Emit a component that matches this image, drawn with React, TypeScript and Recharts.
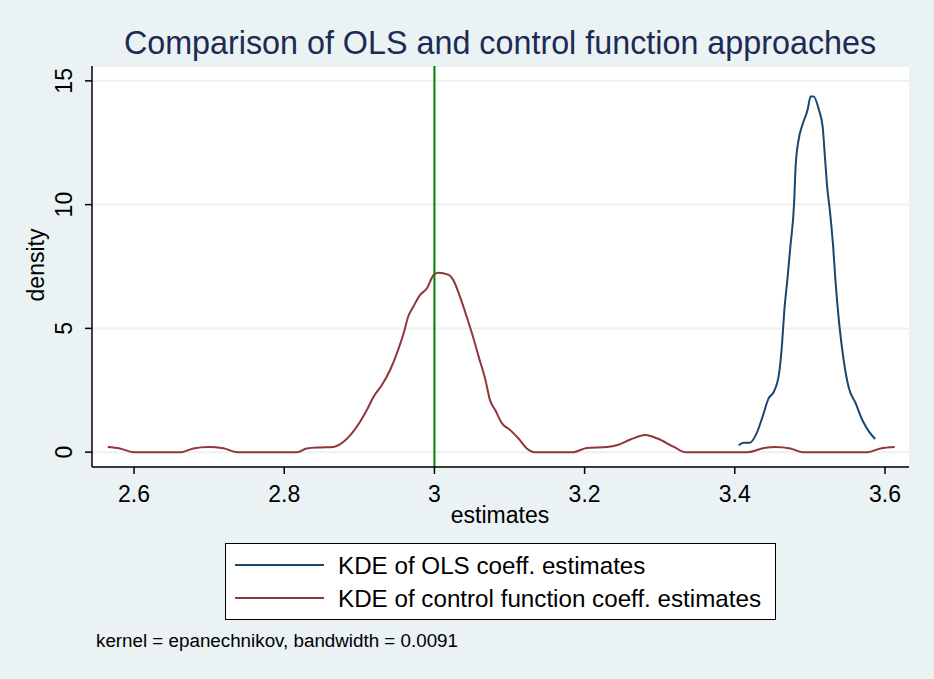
import { LineChart, Line, XAxis, YAxis, CartesianGrid, ReferenceLine } from 'recharts'

// KDE of OLS coefficient estimates
const olsX = [3.405, 3.412, 3.42, 3.429, 3.437, 3.445, 3.452, 3.459, 3.463, 3.466, 3.47, 3.474, 3.479, 3.481, 3.485, 3.49, 3.497, 3.501, 3.505, 3.512, 3.517, 3.52, 3.523, 3.527, 3.531, 3.534, 3.539, 3.545, 3.552, 3.561, 3.57, 3.579, 3.587]
const olsY = [0.28, 0.38, 0.38, 0.76, 1.43, 2.17, 2.44, 3.18, 4.4, 5.74, 6.96, 8.3, 10.06, 11.54, 12.62, 13.22, 13.83, 14.37, 14.37, 13.83, 13.15, 11.94, 10.73, 9.65, 8.3, 6.96, 5.2, 3.72, 2.58, 1.97, 1.29, 0.82, 0.53]

// KDE of control function coefficient estimates
const cfX = [2.565, 2.581, 2.599, 2.663, 2.679, 2.699, 2.719, 2.737, 2.817, 2.83, 2.848, 2.865, 2.879, 2.89, 2.901, 2.91, 2.919, 2.93, 2.941, 2.95, 2.959, 2.965, 2.972, 2.981, 2.99, 2.999, 3.005, 3.019, 3.025, 3.034, 3.043, 3.05, 3.059, 3.068, 3.074, 3.081, 3.09, 3.101, 3.112, 3.123, 3.134, 3.185, 3.203, 3.23, 3.243, 3.261, 3.281, 3.297, 3.319, 3.334, 3.417, 3.439, 3.454, 3.474, 3.49, 3.577, 3.594, 3.613]
const cfY = [0.21, 0.15, 0, 0, 0.15, 0.21, 0.16, 0, 0, 0.15, 0.19, 0.21, 0.42, 0.76, 1.23, 1.7, 2.24, 2.71, 3.32, 3.99, 4.8, 5.47, 5.88, 6.35, 6.62, 7.16, 7.25, 7.16, 6.96, 6.28, 5.47, 4.8, 3.85, 2.91, 2.1, 1.7, 1.16, 0.89, 0.55, 0.15, 0, 0, 0.17, 0.21, 0.28, 0.51, 0.69, 0.55, 0.21, 0, 0, 0.17, 0.21, 0.15, 0, 0, 0.15, 0.21]

const xTicks = [2.6, 2.8, 3, 3.2, 3.4, 3.6]
const yTicks = [0, 5, 10, 15]
const trueValue = 3

const olsData = olsX.map((x, i) => ({ x, y: olsY[i] }))
const cfData = cfX.map((x, i) => ({ x, y: cfY[i] }))

const W = 934
const H = 679
const BG = '#eaf2f3'
const BLUE = '#1a476f'
const RED = '#90353b'
const FONT = '"Liberation Sans", Arial, sans-serif'

const XTick = (props: any) => (
  <text x={props.x} y={502} textAnchor="middle" fontSize={23} fill="#000" fontFamily={FONT}>
    {props.payload.value}
  </text>
)

const YTick = (props: any) => (
  <text
    x={72}
    y={props.y}
    transform={`rotate(-90, 72, ${props.y})`}
    textAnchor="middle"
    fontSize={23}
    fill="#000"
    fontFamily={FONT}
  >
    {props.payload.value}
  </text>
)

export default function App() {
  return (
    <div style={{ position: 'absolute', left: 0, top: 0, width: W, height: H, background: BG, fontFamily: FONT }}>
      <LineChart width={W} height={H} margin={{ top: 66, right: 25, bottom: 182, left: 32 }}>
        <CartesianGrid vertical={false} fill="#ffffff" stroke={BG} strokeWidth={2} />
        <XAxis
          type="number"
          dataKey="x"
          domain={[2.544, 3.632]}
          ticks={xTicks}
          allowDataOverflow
          height={30}
          stroke="#000"
          strokeWidth={1.5}
          tickSize={7}
          tick={<XTick />}
          label={{
            content: () => (
              <text x={500} y={523} textAnchor="middle" fontSize={23} fill="#000" fontFamily={FONT}>
                estimates
              </text>
            ),
          }}
        />
        <YAxis
          type="number"
          domain={[-0.6, 15.6]}
          ticks={yTicks}
          allowDataOverflow
          width={60}
          stroke="#000"
          strokeWidth={1.5}
          tickSize={7}
          tick={<YTick />}
          label={{
            content: () => (
              <text
                x={44}
                y={265}
                transform="rotate(-90, 44, 265)"
                textAnchor="middle"
                fontSize={23}
                fill="#000"
                fontFamily={FONT}
              >
                density
              </text>
            ),
          }}
        />
        <Line
          data={olsData}
          dataKey="y"
          type="monotone"
          stroke={BLUE}
          strokeWidth={2}
          dot={false}
          isAnimationActive={false}
        />
        <Line
          data={cfData}
          dataKey="y"
          type="monotone"
          stroke={RED}
          strokeWidth={2}
          dot={false}
          isAnimationActive={false}
        />
        <ReferenceLine x={trueValue} stroke="#008000" strokeWidth={2} />
      </LineChart>

      <svg width={W} height={H} style={{ position: 'absolute', left: 0, top: 0, pointerEvents: 'none' }}>
        <text x={500} y={54} textAnchor="middle" fontSize={32.3} fill="#1c2a55" fontFamily={FONT}>
          Comparison of OLS and control function approaches
        </text>
        <rect x={225.5} y={543.5} width={550} height={76} fill="#ffffff" stroke="#000" strokeWidth={1} />
        <line x1={235} x2={324} y1={565} y2={565} stroke={BLUE} strokeWidth={2} />
        <line x1={235} x2={324} y1={598} y2={598} stroke={RED} strokeWidth={2} />
        <text x={338} y={573.5} fontSize={24.2} fill="#000" fontFamily={FONT}>
          KDE of OLS coeff. estimates
        </text>
        <text x={338} y={606.5} fontSize={24.2} fill="#000" fontFamily={FONT}>
          KDE of control function coeff. estimates
        </text>
        <text x={96} y={647} fontSize={18.8} fill="#000" fontFamily={FONT}>
          kernel = epanechnikov, bandwidth = 0.0091
        </text>
      </svg>
    </div>
  )
}
